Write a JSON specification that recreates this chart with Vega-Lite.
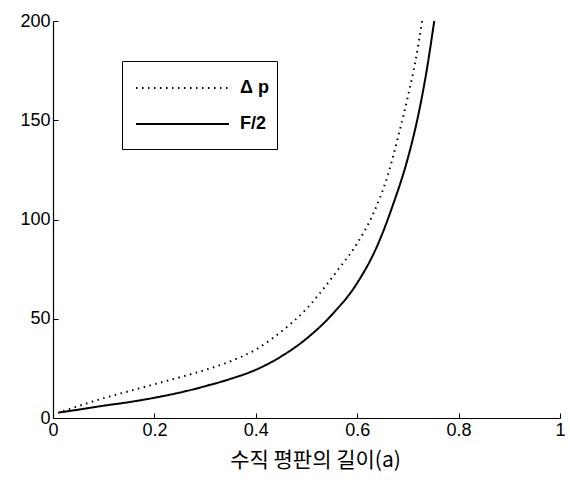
{
  "$schema": "https://vega.github.io/schema/vega-lite/v6.json",
  "width": 507,
  "height": 397,
  "autosize": {"type": "none"},
  "padding": {"left": 53, "top": 21, "right": 10, "bottom": 66},
  "background": "white",
  "config": {
    "view": {"stroke": null},
    "axis": {
      "grid": false,
      "domainColor": "black",
      "domainWidth": 1.2,
      "tickColor": "black",
      "tickWidth": 1,
      "tickSize": -5,
      "labelFont": "Liberation Sans",
      "labelFontSize": 18,
      "labelColor": "black",
      "titleColor": "black"
    }
  },
  "data": {
    "values": [
      {"a": 0.01, "v": 2.7, "s": "F/2"},
      {"a": 0.05, "v": 4.2, "s": "F/2"},
      {"a": 0.1, "v": 6.2, "s": "F/2"},
      {"a": 0.15, "v": 8.0, "s": "F/2"},
      {"a": 0.2, "v": 10.2, "s": "F/2"},
      {"a": 0.25, "v": 12.8, "s": "F/2"},
      {"a": 0.3, "v": 16.0, "s": "F/2"},
      {"a": 0.35, "v": 19.7, "s": "F/2"},
      {"a": 0.4, "v": 24.3, "s": "F/2"},
      {"a": 0.45, "v": 31.0, "s": "F/2"},
      {"a": 0.5, "v": 40.0, "s": "F/2"},
      {"a": 0.55, "v": 52.0, "s": "F/2"},
      {"a": 0.6, "v": 68, "s": "F/2"},
      {"a": 0.64, "v": 87, "s": "F/2"},
      {"a": 0.67, "v": 107, "s": "F/2"},
      {"a": 0.7, "v": 131, "s": "F/2"},
      {"a": 0.72, "v": 152, "s": "F/2"},
      {"a": 0.735, "v": 172, "s": "F/2"},
      {"a": 0.752, "v": 200, "s": "F/2"},
      {"a": 0.02, "v": 3.5, "s": "Δ p"},
      {"a": 0.05, "v": 6.0, "s": "Δ p"},
      {"a": 0.1, "v": 10.0, "s": "Δ p"},
      {"a": 0.15, "v": 13.5, "s": "Δ p"},
      {"a": 0.2, "v": 17.0, "s": "Δ p"},
      {"a": 0.25, "v": 20.5, "s": "Δ p"},
      {"a": 0.3, "v": 24.2, "s": "Δ p"},
      {"a": 0.35, "v": 28.6, "s": "Δ p"},
      {"a": 0.4, "v": 34.5, "s": "Δ p"},
      {"a": 0.45, "v": 43.5, "s": "Δ p"},
      {"a": 0.5, "v": 55.0, "s": "Δ p"},
      {"a": 0.53, "v": 64, "s": "Δ p"},
      {"a": 0.56, "v": 74, "s": "Δ p"},
      {"a": 0.6, "v": 88, "s": "Δ p"},
      {"a": 0.63, "v": 102, "s": "Δ p"},
      {"a": 0.66, "v": 122, "s": "Δ p"},
      {"a": 0.683, "v": 144, "s": "Δ p"},
      {"a": 0.7, "v": 162, "s": "Δ p"},
      {"a": 0.715, "v": 180, "s": "Δ p"},
      {"a": 0.728, "v": 200, "s": "Δ p"}
    ]
  },
  "mark": {"type": "line", "color": "black", "strokeWidth": 2, "interpolate": "monotone"},
  "encoding": {
    "x": {
      "field": "a",
      "type": "quantitative",
      "scale": {"domain": [0, 1], "nice": false},
      "axis": {
        "values": [0, 0.2, 0.4, 0.6, 0.8, 1],
        "format": "~g",
        "labelFlush": false,
        "labelPadding": 8,
        "title": "수직 평판의 길이(a)",
        "titleFont": "Noto Sans CJK KR",
        "titleFontSize": 21,
        "titleFontWeight": "normal",
        "titlePadding": 10,
        "titleX": 262
      }
    },
    "y": {
      "field": "v",
      "type": "quantitative",
      "scale": {"domain": [0, 200], "nice": false},
      "axis": {
        "values": [0, 50, 100, 150, 200],
        "labelPadding": 8,
        "title": null
      }
    },
    "strokeDash": {
      "field": "s",
      "type": "nominal",
      "scale": {"domain": ["Δ p", "F/2"], "range": [[1.5, 4.5], [1, 0]]},
      "legend": {
        "title": null,
        "orient": "none",
        "legendX": 69,
        "legendY": 40,
        "padding": 8,
        "strokeColor": "black",
        "fillColor": "white",
        "symbolType": "M-0.722,0H4.444M0,0.72",
        "symbolSize": 1296,
        "symbolStrokeColor": "black",
        "symbolStrokeWidth": 2,
        "labelOffset": 72,
        "labelFont": "Liberation Sans",
        "labelFontSize": 18,
        "labelFontWeight": "bold",
        "labelColor": "black",
        "rowPadding": -3
      }
    },
    "order": {"field": "a", "type": "quantitative"}
  }
}
